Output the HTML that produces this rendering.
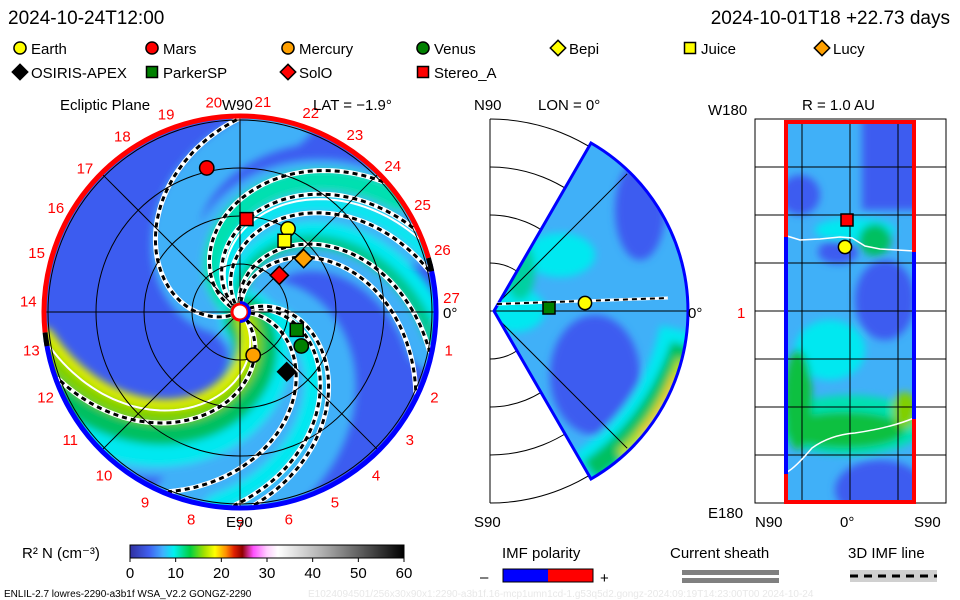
<!DOCTYPE html>
<html><head><meta charset="utf-8"><style>
html,body{margin:0;padding:0;background:#fff;}
svg{display:block;font-family:"Liberation Sans",sans-serif;}
</style></head><body>
<svg id="c" width="960" height="600" viewBox="0 0 960 600" xmlns="http://www.w3.org/2000/svg">
<defs>
<clipPath id="cl"><circle cx="240" cy="312" r="194"/></clipPath>
<clipPath id="cw"><path d="M494 311 L591 143 A194 194 0 0 1 591 479 Z"/></clipPath>
<clipPath id="cr"><rect x="786" y="122" width="128" height="380"/></clipPath>
<filter id="bl" x="-20%" y="-20%" width="140%" height="140%"><feGaussianBlur stdDeviation="4"/></filter>
<linearGradient id="cb" x1="0" x2="1" y1="0" y2="0">
<stop offset="0" stop-color="#3030a0"/><stop offset="0.07" stop-color="#4060f0"/><stop offset="0.12" stop-color="#40b0ff"/><stop offset="0.16" stop-color="#00f0f0"/><stop offset="0.22" stop-color="#00d040"/><stop offset="0.27" stop-color="#a0e000"/><stop offset="0.31" stop-color="#ffff00"/><stop offset="0.35" stop-color="#ff9000"/><stop offset="0.38" stop-color="#e02000"/><stop offset="0.41" stop-color="#900000"/><stop offset="0.45" stop-color="#ff50ff"/><stop offset="0.5" stop-color="#ffd0ff"/><stop offset="0.54" stop-color="#ffffff"/><stop offset="0.7" stop-color="#b0b0b0"/><stop offset="1" stop-color="#000"/>
</linearGradient>
</defs>
<g font-size="19" fill="#000">
<text x="8" y="24">2024-10-24T12:00</text>
<text x="950" y="24" text-anchor="end">2024-10-01T18 +22.73 days</text>
</g>
<g id="legend" font-size="15"></g>
<g id="left"></g>
<g id="mid"></g>
<g id="right"></g>
<g id="bottom" font-size="15">
<text x="22" y="558">R² N (cm⁻³)</text>
<rect x="130" y="545" width="274" height="13" fill="url(#cb)" stroke="#000"/>
<text x="502" y="558">IMF polarity</text>
<text x="480" y="582">–</text>
<rect x="503" y="569" width="45" height="13" fill="#0000ff"/>
<rect x="548" y="569" width="45" height="13" fill="#ff0000"/>
<rect x="503" y="569" width="90" height="13" fill="none" stroke="#000"/>
<text x="600" y="583">+</text>
<text x="670" y="558">Current sheath</text>
<rect x="682" y="570" width="97" height="5" fill="#808080"/>
<rect x="682" y="578" width="97" height="5" fill="#808080"/>
<text x="848" y="558">3D IMF line</text>
<rect x="850" y="570" width="87" height="12" fill="#d0d0d0"/>
<line x1="850" y1="576" x2="937" y2="576" stroke="#000" stroke-width="3" stroke-dasharray="8 6"/>
<text x="4" y="597" font-size="10">ENLIL-2.7 lowres-2290-a3b1f WSA_V2.2 GONGZ-2290</text>
<text x="308" y="597" font-size="10" fill="#e8e8e8">E1024094501/256x30x90x1:2290-a3b1f.16-mcp1umn1cd-1.g53q5d2.gongz-2024:09:19T14:23:00T00 2024-10-24</text>
</g>
</svg>
<script>
// ---- data ----
const cbTicks = [0,10,20,30,40,50,60];
const bodyNames = ["Earth","Mars","Mercury","Venus","Bepi","Juice","Lucy","OSIRIS-APEX","ParkerSP","SolO","Stereo_A"];
const bodyShapes = ["circle","circle","circle","circle","diamond","square","diamond","diamond","square","diamond","square"];
const bodyColors = ["#ffff00","#ff0000","#ffa000","#008000","#ffff00","#ffff00","#ffa000","#000000","#008000","#ff0000","#ff0000"];
// ecliptic plane positions: radius (AU) and longitude (deg, from Earth-Sun line, ccw)
const bodyR   = [1.0, 1.54, 0.47, 0.73, null, 0.875, 0.865, 0.79, 0.62, 0.56, 0.97];
const bodyLon = [60, 103, -73, -29, null, 58, 40, -52, -17.5, 43, 86];
// IMF field lines: longitude at outer boundary and at the inner boundary
const spiralOuter = [90, 42, 25, 12, -12, -25, 200, 248, 268, 274];
const spiralInner = [200, 150, 135, 120, 95, 85, 310, 355, 375, 382];
const carrLabels = [1,2,3,4,5,6,7,8,9,10,11,12,13,14,15,16,17,18,19,20,21,22,23,24,25,26,27];

const NS="http://www.w3.org/2000/svg";
function mk(tag, attrs, parent, txt){const e=document.createElementNS(NS,tag);for(const k in attrs)e.setAttribute(k,attrs[k]);if(txt!==undefined)e.textContent=txt;parent.appendChild(e);return e;}
function marker(parent, shape, x, y, s, col){
  let e;
  if(shape==="circle") e=mk("circle",{cx:x,cy:y,r:s*0.55,fill:col,stroke:"#000","stroke-width":1.5},parent);
  else if(shape==="square") e=mk("rect",{x:x-s/2,y:y-s/2,width:s,height:s,fill:col,stroke:"#000","stroke-width":1.5},parent);
  else e=mk("path",{d:`M${x} ${y-s*0.7}L${x+s*0.7} ${y}L${x} ${y+s*0.7}L${x-s*0.7} ${y}Z`,fill:col,stroke:"#000","stroke-width":1.5},parent);
  return e;
}
// legend
const lg=document.getElementById("legend");
const lgX=[20,152,288,423,558,690,822,20,152,288,423];
bodyNames.forEach((n,i)=>{
  const row=i<7?0:1, y=row?72:48;
  const m=marker(lg,bodyShapes[i],lgX[i],y,11,bodyColors[i]);
  
  
  const t=mk("text",{x:lgX[i]+11,y:y+6},lg,n);
  
  
});

// ---- left: ecliptic plane ----
const L=document.getElementById("left");
const cx=240, cy=312, R=194, auPx=96, rIn=10;
function P(r,a){const t=a*Math.PI/180;return [cx+r*Math.cos(t), cy-r*Math.sin(t)];}
function spiralPath(aOut, aIn){let d="";for(let r=rIn;r<=R+8;r+=3){const s=Math.max(0,(R-r)/(R-rIn));const p=P(r,aOut+(aIn-aOut)*s);d+=(d?"L":"M")+p[0].toFixed(1)+" "+p[1].toFixed(1);}return d;}
const bg=mk("g",{"clip-path":"url(#cl)"},L);
mk("circle",{cx,cy,r:R,fill:"#3c5cf0"},bg);
const bandG=mk("g",{filter:"url(#bl)"},bg);
const bands=[[75,185,45,"#40b0f8"],[25,135,70,"#40b0f8"],[-10,90,50,"#40b0f8"],[275,385,50,"#40b0f8"],[250,355,40,"#40b0f8"],[215,320,70,"#40b0f8"],
  [35,145,22,"#00e0b0"],[18,128,14,"#00e8f0"],[0,105,18,"#00e8f0"],[-8,95,14,"#00c890"],[262,370,18,"#00e8f0"],
  [212,320,55,"#00e8f0"],[200,310,44,"#00c060"],[192,302,24,"#80d000"],[186,296,10,"#e0f000"]];
bands.forEach(b=>{const e=mk("path",{d:spiralPath(b[0],b[1]),fill:"none",stroke:b[3],"stroke-width":b[2],"stroke-linecap":"round"},bandG);
  });
// grid
[48,96,144,192].forEach(r=>{const e=mk("circle",{cx,cy,r,fill:"none",stroke:"#000","stroke-width":1},L);});
[0,45,90,135].forEach(a=>{const p1=P(R,a),p2=P(R,a+180);mk("line",{x1:p1[0],y1:p1[1],x2:p2[0],y2:p2[1],stroke:"#000","stroke-width":1},L);});
// current sheath (white)
mk("path",{d:spiralPath(190,302),fill:"none",stroke:"#fff","stroke-width":2},bg);
mk("path",{d:spiralPath(22,130),fill:"none",stroke:"#fff","stroke-width":2},bg);
// spirals
spiralOuter.forEach((a,i)=>{
  const d=spiralPath(a,spiralInner[i]);
  const w=mk("path",{d,fill:"none",stroke:"#fff","stroke-width":5},bg);
  
  const b=mk("path",{d,fill:"none",stroke:"#000","stroke-width":3,"stroke-dasharray":"5 4"},bg);
  
});
// rim
function arc(r,a1,a2){const p1=P(r,a1),p2=P(r,a2);const large=Math.abs(a2-a1)>180?1:0;return `M${p1[0]} ${p1[1]}A${r} ${r} 0 ${large} 0 ${p2[0]} ${p2[1]}`;}
mk("path",{d:arc(R+2,-172,14),fill:"none",stroke:"#0000ff","stroke-width":5},L);
mk("path",{d:arc(R+2,16,186),fill:"none",stroke:"#ff0000","stroke-width":5},L);
mk("path",{d:arc(R+2,186,190),fill:"none",stroke:"#000","stroke-width":5},L);
mk("path",{d:arc(R+2,12,16),fill:"none",stroke:"#000","stroke-width":5},L);
// sun
mk("circle",{cx,cy,r:8,fill:"#fff",stroke:"#ff0000","stroke-width":3},L);
mk("path",{d:`M${cx} ${cy-9.5}A9.5 9.5 0 0 1 ${cx} ${cy+9.5}`,fill:"none",stroke:"#0000ff","stroke-width":3},L);
// labels
carrLabels.forEach(n=>{const a=4+(27-n)*13.3;const p=P(212,a);const t=mk("text",{x:p[0],y:p[1]+6,"text-anchor":"middle","font-size":15,fill:"#ff0000"},L,String(n));
  });
mk("text",{x:60,y:110,"font-size":15},L,"Ecliptic Plane");
mk("text",{x:222,y:110,"font-size":15},L,"W90");
mk("text",{x:313,y:110,"font-size":15},L,"LAT = −1.9°");
mk("text",{x:226,y:527,"font-size":15},L,"E90");
mk("text",{x:443,y:318,"font-size":15},L,"0°");
bodyNames.forEach((n,i)=>{if(bodyR[i]==null)return;const p=P(bodyR[i]*auPx,bodyLon[i]);
  const m=marker(L,bodyShapes[i],p[0],p[1],13,bodyColors[i]);
  });

// ---- middle: meridional ----
const M=document.getElementById("mid");
const mx=490,my=311;
mk("line",{x1:490,y1:119,x2:490,y2:503,stroke:"#000"},M);
[48,96,144,192].forEach(r=>{mk("path",{d:`M${mx} ${my-r}A${r} ${r} 0 0 1 ${mx} ${my+r}`,fill:"none",stroke:"#000"},M);});
const wg=mk("g",{"clip-path":"url(#cw)"},M);
mk("rect",{x:490,y:140,width:200,height:345,fill:"#40b0f8"},wg);
const wb=mk("g",{filter:"url(#bl)"},wg);
mk("ellipse",{cx:595,cy:375,rx:45,ry:60,fill:"#3c5cf0"},wb);
mk("ellipse",{cx:640,cy:210,rx:25,ry:50,fill:"#3c5cf0"},wb);
mk("ellipse",{cx:560,cy:255,rx:35,ry:22,fill:"#00e8f0"},wb);
mk("ellipse",{cx:515,cy:310,rx:30,ry:22,fill:"#00e8f0"},wb);
mk("ellipse",{cx:520,cy:270,rx:15,ry:30,fill:"#00d0a0"},wb);
mk("path",{d:"M680 330 Q660 420 585 470",fill:"none",stroke:"#00e8f0","stroke-width":40},wb);
mk("path",{d:"M682 345 Q655 425 590 470",fill:"none",stroke:"#00c060","stroke-width":22},wb);
mk("path",{d:"M682 360 Q660 420 620 455",fill:"none",stroke:"#c0e000","stroke-width":10},wb);
mk("path",{d:"M675 375 Q660 415 640 435",fill:"none",stroke:"#ffc000","stroke-width":5},wb);
[45,-45].forEach(a=>{const t=a*Math.PI/180;mk("line",{x1:mx,y1:my,x2:mx+194*Math.cos(t),y2:my-194*Math.sin(t),stroke:"#000"},wg);});
mk("line",{x1:490,y1:my,x2:690,y2:my,stroke:"#000"},M);
mk("path",{d:"M494 311 L591 143 A194 194 0 0 1 591 479 Z",fill:"none",stroke:"#0000ff","stroke-width":3},M);
mk("path",{d:"M497 304 L668 298",stroke:"#fff","stroke-width":3,fill:"none"},M);
mk("path",{d:"M497 304 L668 298",stroke:"#000","stroke-width":2,"stroke-dasharray":"5 4",fill:"none"},M);
let m1=marker(M,"square",549,308,12,"#008000");
let m2=marker(M,"circle",585,303,12,"#ffff00");
mk("text",{x:474,y:110,"font-size":15},M,"N90");
mk("text",{x:538,y:110,"font-size":15},M,"LON = 0°");
mk("text",{x:474,y:527,"font-size":15},M,"S90");
mk("text",{x:688,y:318,"font-size":15},M,"0°");

// ---- right: R=1 AU ----
const Rg=document.getElementById("right");
const rg=mk("g",{"clip-path":"url(#cr)"},Rg);
mk("rect",{x:786,y:122,width:128,height:380,fill:"#40b0f8"},rg);
const rb=mk("g",{filter:"url(#bl)"},rg);
mk("rect",{x:862,y:115,width:60,height:95,fill:"#3c5cf0"},rb);
mk("ellipse",{cx:800,cy:195,rx:20,ry:20,fill:"#3c5cf0"},rb);
mk("ellipse",{cx:885,cy:300,rx:30,ry:40,fill:"#3c5cf0"},rb);
mk("ellipse",{cx:838,cy:252,rx:20,ry:12,fill:"#3c5cf0"},rb);
mk("ellipse",{cx:880,cy:490,rx:45,ry:30,fill:"#3c5cf0"},rb);
mk("ellipse",{cx:855,cy:230,rx:40,ry:12,fill:"#00e8f0"},rb);
mk("ellipse",{cx:875,cy:240,rx:16,ry:16,fill:"#00c060"},rb);
mk("ellipse",{cx:830,cy:350,rx:35,ry:30,fill:"#00e8f0"},rb);
mk("ellipse",{cx:850,cy:425,rx:75,ry:30,fill:"#00e0b0"},rb);
mk("ellipse",{cx:845,cy:430,rx:60,ry:18,fill:"#10c040"},rb);
mk("ellipse",{cx:798,cy:400,rx:14,ry:50,fill:"#10c040"},rb);
mk("ellipse",{cx:905,cy:410,rx:12,ry:18,fill:"#80d000"},rb);
for(let y=167;y<=455;y+=48)mk("line",{x1:755,y1:y,x2:946,y2:y,stroke:"#000"},Rg);
[802,850,898].forEach(x=>mk("line",{x1:x,y1:122,x2:x,y2:502,stroke:"#000"},Rg));
mk("rect",{x:755,y:119,width:191,height:384,fill:"none",stroke:"#000"},Rg);
mk("path",{d:"M787 236 L800 240 L820 239 L840 237 L852 238 L865 246 L880 249 L914 251",fill:"none",stroke:"#fff","stroke-width":1.5},Rg);
mk("path",{d:"M787 472 Q795 468 812 448 Q830 435 855 433 Q890 428 914 418",fill:"none",stroke:"#fff","stroke-width":1.5},Rg);
mk("path",{d:"M786 237 V122 H914 V252",fill:"none",stroke:"#ff0000","stroke-width":4},Rg);
mk("path",{d:"M786 237 V474",fill:"none",stroke:"#0000ff","stroke-width":4},Rg);
mk("path",{d:"M786 474 V502 H914 V419",fill:"none",stroke:"#ff0000","stroke-width":4},Rg);
mk("path",{d:"M914 252 V419",fill:"none",stroke:"#0000ff","stroke-width":4},Rg);
let m3=marker(Rg,"square",847,220,12,"#ff0000");
let m4=marker(Rg,"circle",845,247,12,"#ffff00");
mk("text",{x:802,y:110,"font-size":15},Rg,"R = 1.0 AU");
mk("text",{x:708,y:115,"font-size":15},Rg,"W180");
mk("text",{x:708,y:518,"font-size":15},Rg,"E180");
mk("text",{x:737,y:318,"font-size":15,fill:"#ff0000"},Rg,"1");
mk("text",{x:755,y:527,"font-size":15},Rg,"N90");
mk("text",{x:840,y:527,"font-size":15},Rg,"0°");
mk("text",{x:914,y:527,"font-size":15},Rg,"S90");

// colorbar ticks
const B=document.getElementById("bottom");
cbTicks.forEach(v=>{const x=130+v/60*274;mk("line",{x1:x,y1:558,x2:x,y2:562,stroke:"#000"},B);
  const t=mk("text",{x:x,y:578,"text-anchor":"middle"},B,String(v));
  });
</script>
</body></html>
